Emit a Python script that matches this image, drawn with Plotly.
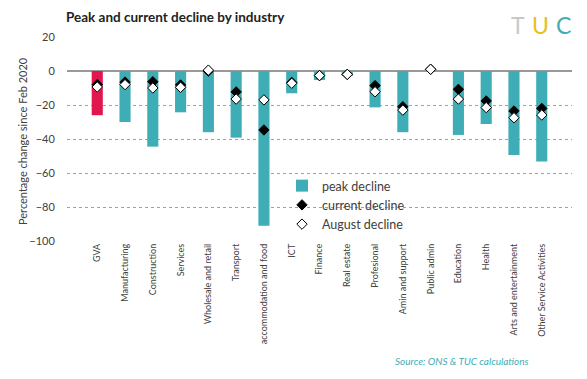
import plotly.graph_objects as go

categories = ["GVA", "Manufacturing", "Construction", "Services", "Wholesale and retail",
              "Transport", "accommodation and food", "ICT", "Finance", "Real estate",
              "Profesional", "Amin and support", "Public admin", "Education", "Health",
              "Arts and entertainment", "Other Service Activities"]
peak_decline = [-26, -30, -44.5, -24.3, -36, -39.2, -91, -13.1, -5.3, -3, -21.4, -36, 0,
                -37.6, -31.2, -49.4, -53.3]
current_decline = [-8, -6.5, -6.3, -8.2, 0, -12.3, -34.7, -6.7, -2.7, -2, -8.6, -21, 1,
                   -10.8, -17.6, -23.5, -22]
august_decline = [-9.4, -8, -10, -9.6, 0.5, -16.5, -17, -7.2, -2.7, -2, -12.2, -23, 1,
                  -16.5, -21.5, -27.5, -25.9]
logo_letters = ["T", "U", "C"]

TEAL = "#3EADB5"
RED = "#E1164F"
logo_colors = ["#C8C8C8", "#E3C21C", TEAL]
logo_x = [518, 540, 563]

# the page body has an 8px default margin; compensate so the picture lines up
OFF = 8
W, H = 587 - OFF, 379 - OFF
L, R, T, B = 67 - OFF, 15, 37 - OFF, 138
PW, PH = W - L - R, H - T - B


def px(x):
    return (x - OFF - L) / PW


def py(y):
    return (H - B - (y - OFF)) / PH


fig = go.Figure()
fig.add_trace(go.Bar(x=categories[1:], y=peak_decline[1:], name="peak decline",
                     marker=dict(color=TEAL, line=dict(width=0)), width=0.4))
fig.add_trace(go.Bar(x=categories[:1], y=peak_decline[:1], name="GVA peak", showlegend=False,
                     marker=dict(color=RED, line=dict(width=0)), width=0.4))
fig.add_trace(go.Scatter(x=categories, y=current_decline, name="current decline", mode="markers",
                         marker=dict(symbol="diamond", size=8, color="black",
                                     line=dict(color="black", width=1))))
fig.add_trace(go.Scatter(x=categories, y=august_decline, name="August decline", mode="markers",
                         marker=dict(symbol="diamond", size=8, color="white",
                                     line=dict(color="black", width=1))))

annotations = [
    dict(text="<b>Peak and current decline by industry</b>", x=px(64), y=py(17),
         xref="paper", yref="paper", showarrow=False, xanchor="left", yanchor="middle",
         font=dict(size=13.5, color="#222222")),
    dict(text="Percentage change since Feb 2020", x=px(22), y=py(141), textangle=-90,
         xref="paper", yref="paper", showarrow=False, xanchor="center", yanchor="middle",
         font=dict(size=11, color="#404040")),
    dict(text="<i>Source: ONS &amp; TUC calculations</i>", x=px(531), y=py(361),
         xref="paper", yref="paper", xanchor="right", yanchor="middle",
         showarrow=False, font=dict(size=10, color="#3EADB5")),
]
for letter, col, lx in zip(logo_letters, logo_colors, logo_x):
    annotations.append(dict(text=letter, x=px(lx), y=py(25), xref="paper", yref="paper",
                            xanchor="center", yanchor="middle", showarrow=False,
                            font=dict(size=23, family="Lato, sans-serif", color=col)))

fig.update_layout(
    width=W, height=H,
    margin=dict(l=L, r=R, t=T, b=B, autoexpand=False),
    paper_bgcolor="white", plot_bgcolor="white",
    font=dict(family="Lato, Open Sans, sans-serif", color="#404040", size=11),
    showlegend=True,
    barmode="overlay",
    legend=dict(x=px(282), y=py(171), xanchor="left", yanchor="top", bgcolor="rgba(0,0,0,0)",
                font=dict(size=12.5, color="#404040"), tracegroupgap=0, itemwidth=30),
    annotations=annotations,
)

fig.update_xaxes(tickangle=-90, tickfont=dict(size=9, color="#404040"), showgrid=False,
                 showline=False, ticks="", zeroline=False, automargin=False,
                 categoryorder="array", categoryarray=categories)
fig.update_yaxes(range=[-100, 20], dtick=20, showgrid=True, gridcolor="#A0A0A0", griddash="dot",
                 gridwidth=1, zeroline=True, zerolinecolor="#999999", zerolinewidth=1.5,
                 tickfont=dict(size=11, color="#404040"), ticks="outside", ticklen=9,
                 tickcolor="rgba(0,0,0,0)", automargin=False)

fig.write_html("out.html")
